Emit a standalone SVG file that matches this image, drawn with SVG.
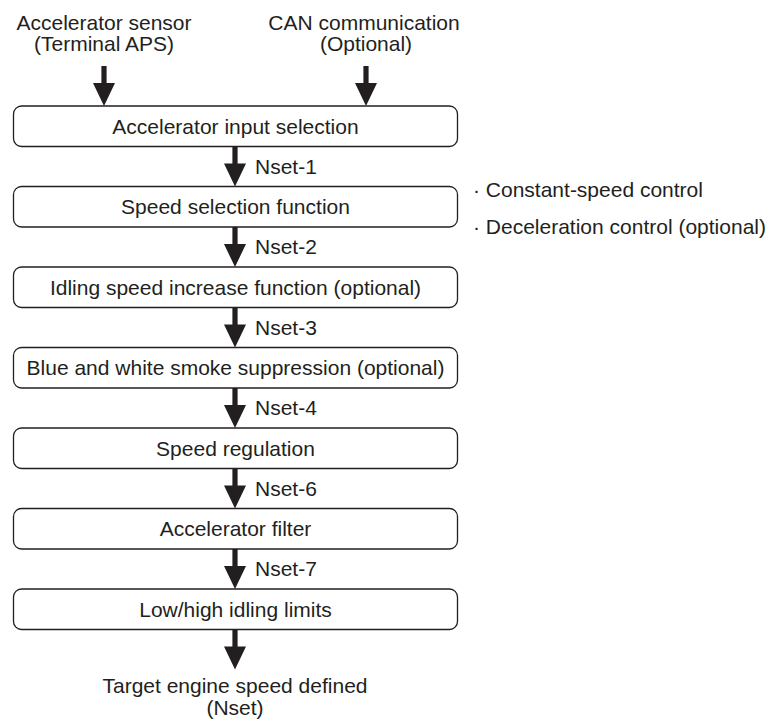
<svg xmlns="http://www.w3.org/2000/svg" width="767" height="724" viewBox="0 0 767 724">
<style>
text{font-family:"Liberation Sans",Arial,sans-serif;font-size:21px;fill:#231f20}
.c{text-anchor:middle}
.box{fill:#fff;stroke:#231f20;stroke-width:1.3}
.arr{fill:#231f20}
</style>
<defs>
<path id="a" d="M-2.6,0 H2.6 V17 H11 L0,40 L-11,17 H-2.6 Z"/>
</defs>
<rect width="767" height="724" fill="#fff"/>
<g id="inputs">
<text class="c" x="104" y="29.5">Accelerator sensor</text>
<text class="c" x="104" y="51">(Terminal APS)</text>
<text class="c" x="364" y="29.5">CAN communication</text>
<text class="c" x="366" y="51">(Optional)</text>
</g>
<g id="connectors">
<use href="#a" class="arr" transform="translate(104,66)"/>
<use href="#a" class="arr" transform="translate(366,66)"/>
<use href="#a" class="arr" transform="translate(235,146.5)"/>
<use href="#a" class="arr" transform="translate(235,227)"/>
<use href="#a" class="arr" transform="translate(235,307.5)"/>
<use href="#a" class="arr" transform="translate(235,388)"/>
<use href="#a" class="arr" transform="translate(235,468.5)"/>
<use href="#a" class="arr" transform="translate(235,549)"/>
<use href="#a" class="arr" transform="translate(235,629.5)"/>
<text x="255" y="173.5">Nset-1</text>
<text x="255" y="254">Nset-2</text>
<text x="255" y="334.5">Nset-3</text>
<text x="255" y="415">Nset-4</text>
<text x="255" y="495.5">Nset-6</text>
<text x="255" y="576">Nset-7</text>
</g>
<g id="n1"><rect class="box" x="13.5" y="106" width="444" height="40.5" rx="8"/><text class="c" x="235.5" y="133.5">Accelerator input selection</text></g>
<g id="n2"><rect class="box" x="13.5" y="186.5" width="444" height="40.5" rx="8"/><text class="c" x="235.5" y="214">Speed selection function</text></g>
<g id="n3"><rect class="box" x="13.5" y="267" width="444" height="40.5" rx="8"/><text class="c" x="235.5" y="294.5">Idling speed increase function (optional)</text></g>
<g id="n4"><rect class="box" x="13.5" y="347.5" width="444" height="40.5" rx="8"/><text class="c" x="235.5" y="375">Blue and white smoke suppression (optional)</text></g>
<g id="n5"><rect class="box" x="13.5" y="428" width="444" height="40.5" rx="8"/><text class="c" x="235.5" y="455.5">Speed regulation</text></g>
<g id="n6"><rect class="box" x="13.5" y="508.5" width="444" height="40.5" rx="8"/><text class="c" x="235.5" y="536">Accelerator filter</text></g>
<g id="n7"><rect class="box" x="13.5" y="589" width="444" height="40.5" rx="8"/><text class="c" x="235.5" y="616.5">Low/high idling limits</text></g>
<g id="notes">
<text x="473" y="197">· Constant-speed control</text>
<text x="473" y="234">· Deceleration control (optional)</text>
</g>
<g id="output">
<text class="c" x="235" y="693">Target engine speed defined</text>
<text class="c" x="235" y="715">(Nset)</text>
</g>
</svg>
